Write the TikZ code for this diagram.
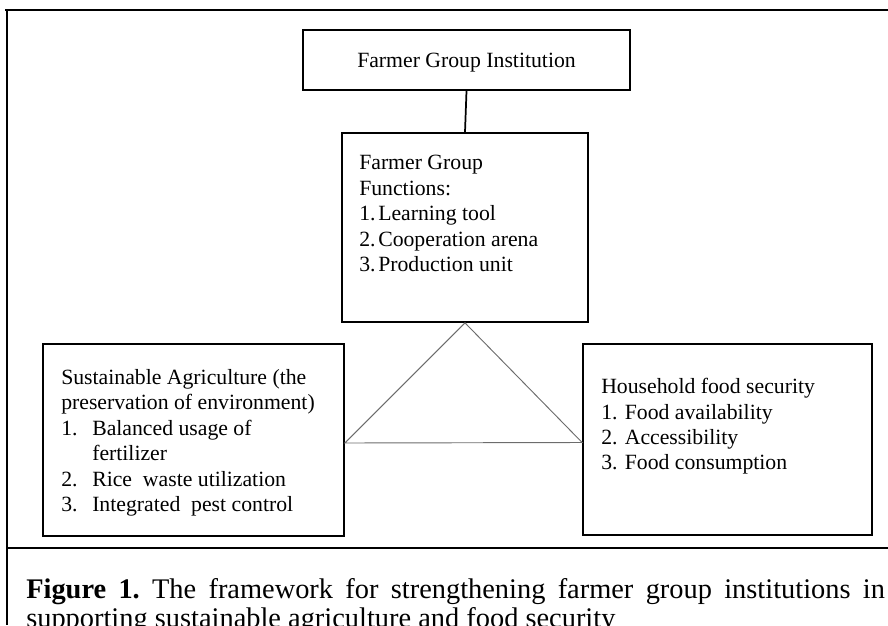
\documentclass[tikz,border=0pt]{standalone}
\usepackage{fontspec}
\setmainfont{Liberation Serif}
\usepackage{xcolor}

\begin{document}
\begin{tikzpicture}[x=0.75pt,y=-0.75pt,
  box/.style={draw,line width=1.3pt,inner sep=0pt},
  txt/.style={anchor=north west,align=left,inner sep=0pt,font=\fontsize{16.3}{19.1}\selectfont},
  frameline/.style={line width=1.4pt},
  triline/.style={draw=gray!85!black,line width=0.7pt}]
\useasboundingbox (0,0) rectangle (888,625);

\draw[frameline] (5,10) -- (888,10);
\draw[frameline] (7,10) -- (7,625);
\draw[frameline] (7,548) -- (888,548);

\node[box,minimum width=245.25pt,minimum height=45pt,text depth=0pt,font=\fontsize{16.3}{19.1}\selectfont] (inst) at (466.5,60) {Farmer Group Institution};
\node[box,minimum width=184.5pt,minimum height=141.75pt] (funcs) at (465,227.5) {};
\node[box,minimum width=225.75pt,minimum height=144pt] (sust) at (193.5,440) {};
\node[box,minimum width=216.75pt,minimum height=143.25pt] (food) at (727.5,439.5) {};

\draw[line width=1.3pt] (inst.south) -- (funcs.north);
\draw[triline] (funcs.south) -- ([yshift=-2.25pt]sust.east) -- ([yshift=-2.25pt]food.west) -- cycle;

\node[txt] (funcstxt) at (359,155) {Farmer Group\\Functions:\\
  \makebox[14.25pt][l]{1.}Learning tool\\
  \makebox[14.25pt][l]{2.}Cooperation arena\\
  \makebox[14.25pt][l]{3.}Production unit};
\node[txt] (susttxt) at (61,369) {Sustainable Agriculture (the\\preservation of environment)\\
  \makebox[23.25pt][l]{1.}Balanced usage of\\
  \hspace*{23.25pt}fertilizer\\
  \makebox[23.25pt][l]{2.}Rice\ \ waste utilization\\
  \makebox[23.25pt][l]{3.}Integrated\ \ pest control};
\node[txt] (foodtxt) at (601,378) {Household food security\\
  1. Food availability\\
  2. Accessibility\\
  3. Food consumption};

\node[anchor=north west,align=left,inner sep=0pt,font=\fontsize{21.3}{22}\selectfont] (caption) at (26,578)
  {\makebox[644pt][s]{\textbf{Figure 1.}\ The framework for strengthening farmer group institutions in}\\
   supporting sustainable agriculture and food security};
\end{tikzpicture}
\end{document}
